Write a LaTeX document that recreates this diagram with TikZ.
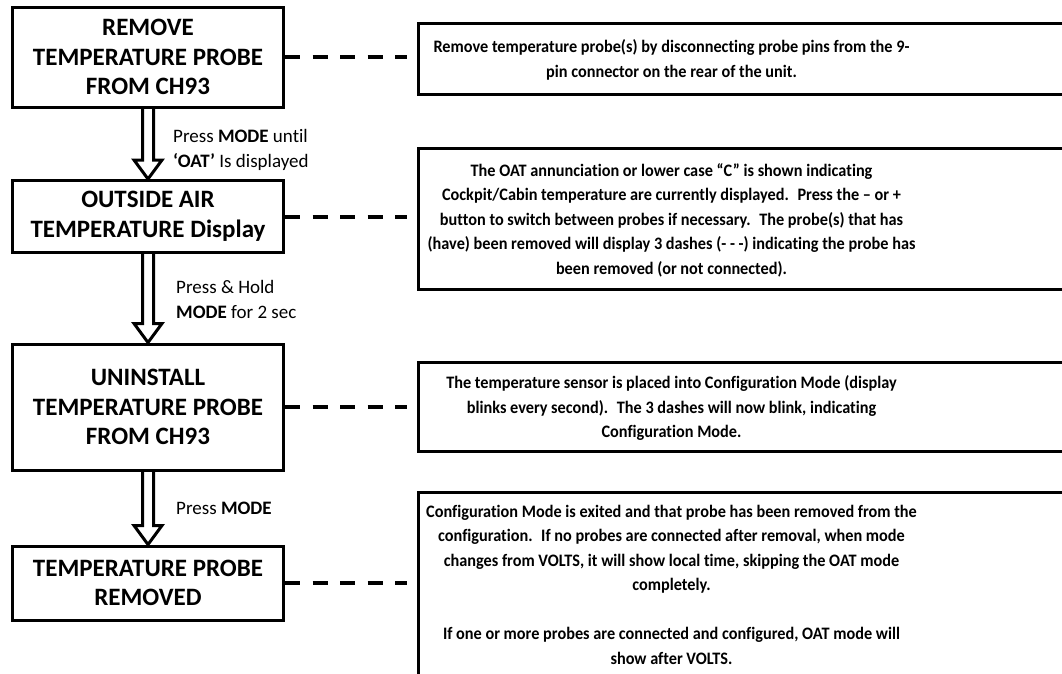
\documentclass[tikz,border=0pt]{standalone}
\usepackage{fontspec}
\setmainfont{Carlito}[Ligatures=NoCommon]
\newfontfamily\notefamily{Carlito}[FakeStretch=0.93, Ligatures=NoCommon]
\usetikzlibrary{calc}
\newcommand\stepfnt{\fontsize{25}{29.5}\selectfont\bfseries}
\newcommand\notefnt{\notefamily\fontsize{17.5}{24.5}\selectfont\bfseries}
\newcommand\cuefnt{\fontsize{19}{25}\selectfont}
\tikzset{
  >=latex,
  stepbox/.style={draw, line width=3pt, minimum width=271pt, align=center, font=\stepfnt},
  notebox/.style={draw, line width=3pt, minimum width=662pt},
  notetext/.style={align=center, font=\notefnt},
  cue/.style={anchor=west, align=left, font=\cuefnt, inner sep=0pt},
  link/.style={line width=4pt, dash pattern=on 15pt off 12.5pt, shorten >=10pt},
  flow/.style={line width=3pt, to path={
      ($(\tikztostart)+(-5.5,0)$) |- ($(\tikztotarget)+(-14,-19)$)
      -- (\tikztotarget) -- ($(\tikztotarget)+(14,-19)$) -| ($(\tikztostart)+(5.5,0)$)}}
}
\begin{document}
\begin{tikzpicture}[x=1pt,y=-1pt]
  \useasboundingbox (0,0) rectangle (1062,673);
  % steps on the left
  \node[stepbox, minimum height=100pt] (step1) at (148,57) {REMOVE\\TEMPERATURE PROBE\\FROM CH93};
  \node[stepbox, minimum height=72pt] (step2) at (148,216.5) {OUTSIDE AIR\\TEMPERATURE Display};
  \node[stepbox, minimum height=126pt] (step3) at (148,407) {UNINSTALL\\TEMPERATURE PROBE\\FROM CH93};
  \node[stepbox, minimum height=74pt] (step4) at (148,583) {TEMPERATURE PROBE\\REMOVED};
  \draw[flow] (step1.south) to (step2.north);
  \draw[flow] (step2.south) to (step3.north);
  \draw[flow] (step3.south) to (step4.north);
  \node[cue] (cue1) at (173,149.5) {Press \textbf{MODE} until\\\textbf{‘OAT’} Is displayed};
  \node[cue] (cue2) at (176,299.5) {Press \& Hold\\\textbf{MODE} for 2 sec};
  \node[cue] (cue3) at (176,508) {Press \textbf{MODE}};
  % notes on the right
  \node[notebox, minimum height=71pt] (box1) at (749,58.5) {};
  \node[notebox, minimum height=141pt] (box2) at (749,218.5) {};
  \node[notebox, minimum height=89pt] (box3) at (749,406.5) {};
  \node[notebox, minimum height=208pt] (box4) at (749,596) {};
  \node[notetext] (note1) at (671.5,60) {Remove temperature probe(s) by disconnecting probe pins from the 9-\\pin connector on the rear of the unit.};
  \node[notetext] (note2) at (671.5,220) {The OAT annunciation or lower case “C” is shown indicating\\Cockpit/Cabin temperature are currently displayed.~ Press the – or +\\button to switch between probes if necessary.~ The probe(s) that has\\(have) been removed will display 3 dashes (- - -) indicating the probe has\\been removed (or not connected).};
  \node[notetext] (note3) at (671.5,408) {The temperature sensor is placed into Configuration Mode (display\\blinks every second).~ The 3 dashes will now blink, indicating\\Configuration Mode.};
  \node[notetext] (note4) at (671.5,584.5) {Configuration Mode is exited and that probe has been removed from the\\configuration.~ If no probes are connected after removal, when mode\\changes from VOLTS, it will show local time, skipping the OAT mode\\completely.\\[24.5pt]If one or more probes are connected and configured, OAT mode will\\show after VOLTS.};
  \draw[link] (step1.east) -- (step1.east -| box1.west);
  \draw[link] (step2.east) -- (step2.east -| box2.west);
  \draw[link] (step3.east) -- (step3.east -| box3.west);
  \draw[link] (step4.east) -- (step4.east -| box4.west);
\end{tikzpicture}
\end{document}
